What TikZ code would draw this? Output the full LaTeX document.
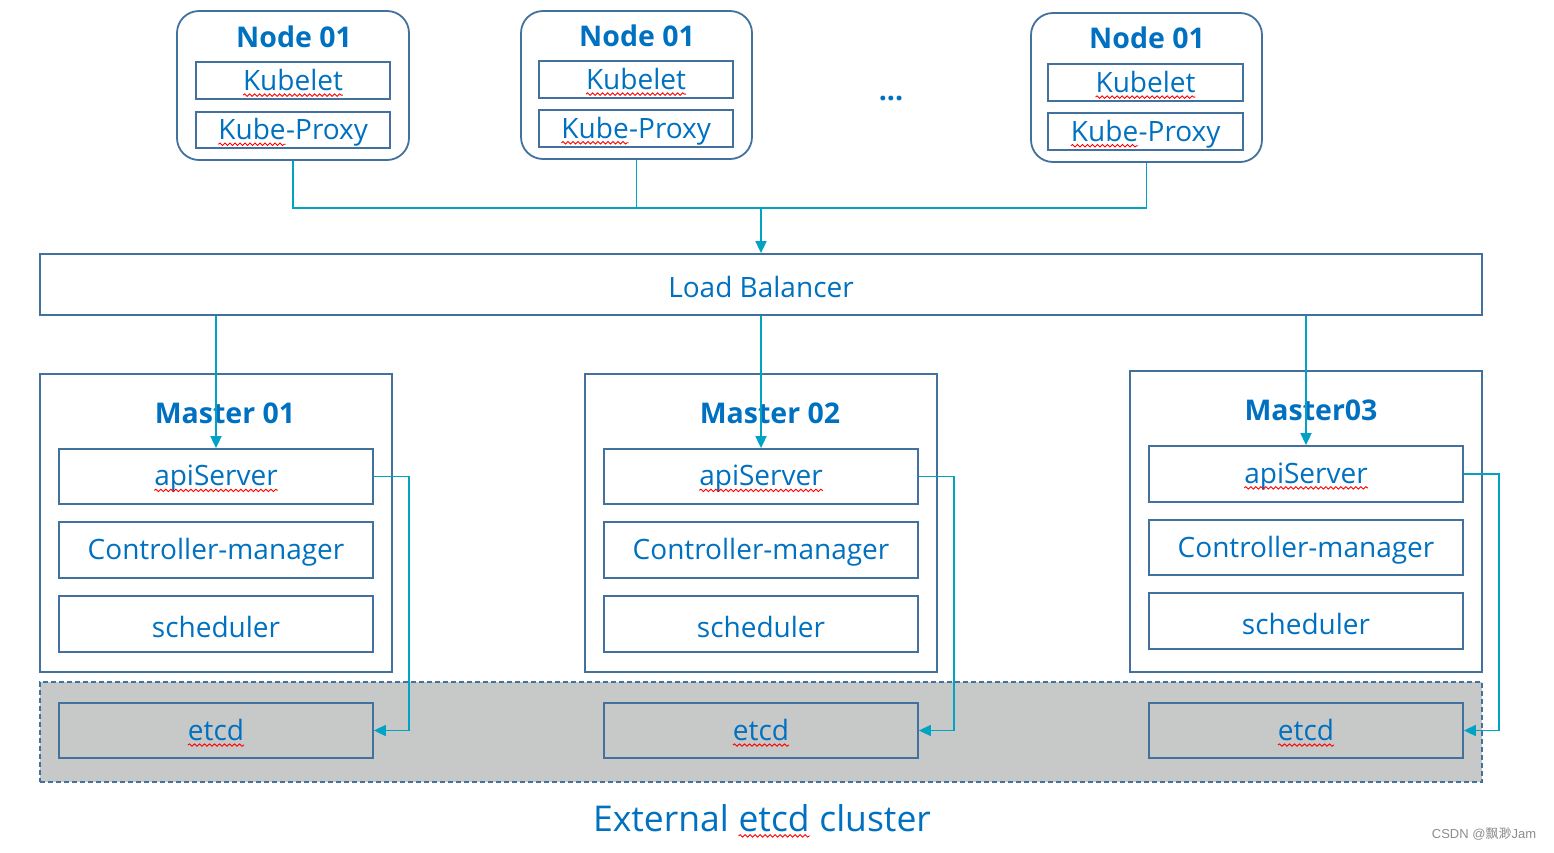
\documentclass[tikz,border=0pt]{standalone}
\usepackage{fontspec}
\setmainfont{Open Sans}
\newfontfamily\cjkfont{Noto Sans CJK SC}
\newfontfamily\wmfont{Liberation Sans}
\usetikzlibrary{arrows.meta,decorations.pathmorphing}
\definecolor{bord}{RGB}{65,113,156}
\definecolor{txt}{RGB}{0,112,192}
\definecolor{conn}{RGB}{0,163,196}
\definecolor{etcdgray}{RGB}{199,200,200}
\newcommand\fs[1]{\fontsize{#1}{#1}\selectfont}
\newcommand\wavy[1]{\tikz[baseline=(w.base)]{\node[inner sep=0pt,outer sep=0pt,minimum width=0pt,minimum height=0pt,draw=none,fill=none,rounded corners=0pt] (w) {#1};
  \draw[red,line width=0.9pt,decorate,decoration={snake,amplitude=1.2pt,segment length=5pt}]
    ([yshift=-4.5pt]w.base west) -- ([yshift=-4.5pt]w.base east);}}
% style, x1, y1, x2, y2, name, text
\newcommand\rbox[7]{\node[#1,minimum width={(#4)-(#2)},minimum height={(#5)-(#3)}] (#6) at ({((#2)+(#4))/2},{((#3)+(#5))/2}) {\raisebox{-2.5pt}[\height][\depth]{#7}};}
\begin{document}
\begin{tikzpicture}[x=1pt,y=-1pt,
  box/.style={draw=bord,line width=1.8pt,inner sep=0pt,text=txt,font=\fs{28}},
  nodebox/.style={draw=bord,line width=1.8pt,rounded corners=22pt,inner sep=0pt},
  title/.style={text=txt,font=\bfseries\fs{28.5},inner sep=0pt},
  masterbox/.style={draw=bord,line width=1.8pt,inner sep=0pt},
  cluster/.style={draw=bord,line width=1.5pt,dash pattern=on 5pt off 3pt,fill=etcdgray,inner sep=0pt},
  etcdbox/.style={box,fill=etcdgray},
  link/.style={draw=conn,line width=1.8pt},
  arr/.style={link,-{Triangle[length=12pt,width=11pt]}}]
\useasboundingbox (0,0) rectangle (1554,852);

% worker nodes
\rbox{nodebox}{177}{11}{409}{160}{n1}{}
\node[title] (t1) at (294,37) {Node 01};
\rbox{box}{196}{62}{390}{99}{k1}{\wavy{Kubelet}}
\rbox{box}{196}{112}{390}{148}{p1}{\wavy{Kube}-Proxy}

\rbox{nodebox}{521}{11}{752}{159}{n2}{}
\node[title] (t2) at (637,36) {Node 01};
\rbox{box}{539}{61}{733}{98}{k2}{\wavy{Kubelet}}
\rbox{box}{539}{110}{733}{147}{p2}{\wavy{Kube}-Proxy}

\rbox{nodebox}{1031}{13}{1262}{162}{n3}{}
\node[title] (t3) at (1147,38) {Node 01};
\rbox{box}{1048}{64}{1243}{101}{k3}{\wavy{Kubelet}}
\rbox{box}{1048}{113}{1243}{150}{p3}{\wavy{Kube}-Proxy}

\node[title] (dots) at (891,99) {...};

% load balancer
\rbox{box}{40}{254}{1482}{315}{lb}{Load Balancer}

% etcd cluster background
\rbox{cluster}{40}{682}{1482}{782}{cl}{}
\node[text=txt,font=\fs{35.5},inner sep=0pt] (cltext) at (762,821) {External \wavy{etcd} cluster};

% masters
\rbox{masterbox}{40}{374}{392}{672}{m1}{}
\node[title] (mt1) at (225,413) {Master 01};
\rbox{box}{59}{449}{373}{504}{a1}{\wavy{apiServer}}
\rbox{box}{59}{522}{373}{578}{c1}{Controller-manager}
\rbox{box}{59}{596}{373}{652}{s1}{scheduler}
\rbox{etcdbox}{59}{703}{373}{758}{e1}{\wavy{etcd}}

\rbox{masterbox}{585}{374}{937}{672}{m2}{}
\node[title] (mt2) at (770,413) {Master 02};
\rbox{box}{604}{449}{918}{504}{a2}{\wavy{apiServer}}
\rbox{box}{604}{522}{918}{578}{c2}{Controller-manager}
\rbox{box}{604}{596}{918}{652}{s2}{scheduler}
\rbox{etcdbox}{604}{703}{918}{758}{e2}{\wavy{etcd}}

\rbox{masterbox}{1130}{371}{1482}{672}{m3}{}
\node[title] (mt3) at (1311,410) {Master03};
\rbox{box}{1149}{446}{1463}{502}{a3}{\wavy{apiServer}}
\rbox{box}{1149}{520}{1463}{575}{c3}{Controller-manager}
\rbox{box}{1149}{593}{1463}{649}{s3}{scheduler}
\rbox{etcdbox}{1149}{703}{1463}{758}{e3}{\wavy{etcd}}

% connectors nodes -> load balancer
\coordinate (j) at (761,208);
\draw[link] (n1.south) |- (j);
\draw[link] (n3.south) |- (j);
\draw[link] (n2.south) -- (n2.south |- j);
\draw[arr] (j) -- (j |- lb.north);

% load balancer -> apiServers
\draw[arr] (lb.south -| a1.north) -- (a1.north);
\draw[arr] (lb.south -| a2.north) -- (a2.north);
\draw[arr] (lb.south -| a3.north) -- (a3.north);

% apiServer -> etcd
\draw[arr] (a1.east) -- ++(35,0) |- (e1.east);
\draw[arr] (a2.east) -- ++(35,0) |- (e2.east);
\draw[arr] (a3.east) -- ++(35,0) |- (e3.east);

% watermark
\node[text=black!45,font=\wmfont\fs{13},inner sep=0pt] (wm) at (1484,834) {CSDN @{\cjkfont 飘渺}Jam};
\end{tikzpicture}
\end{document}
